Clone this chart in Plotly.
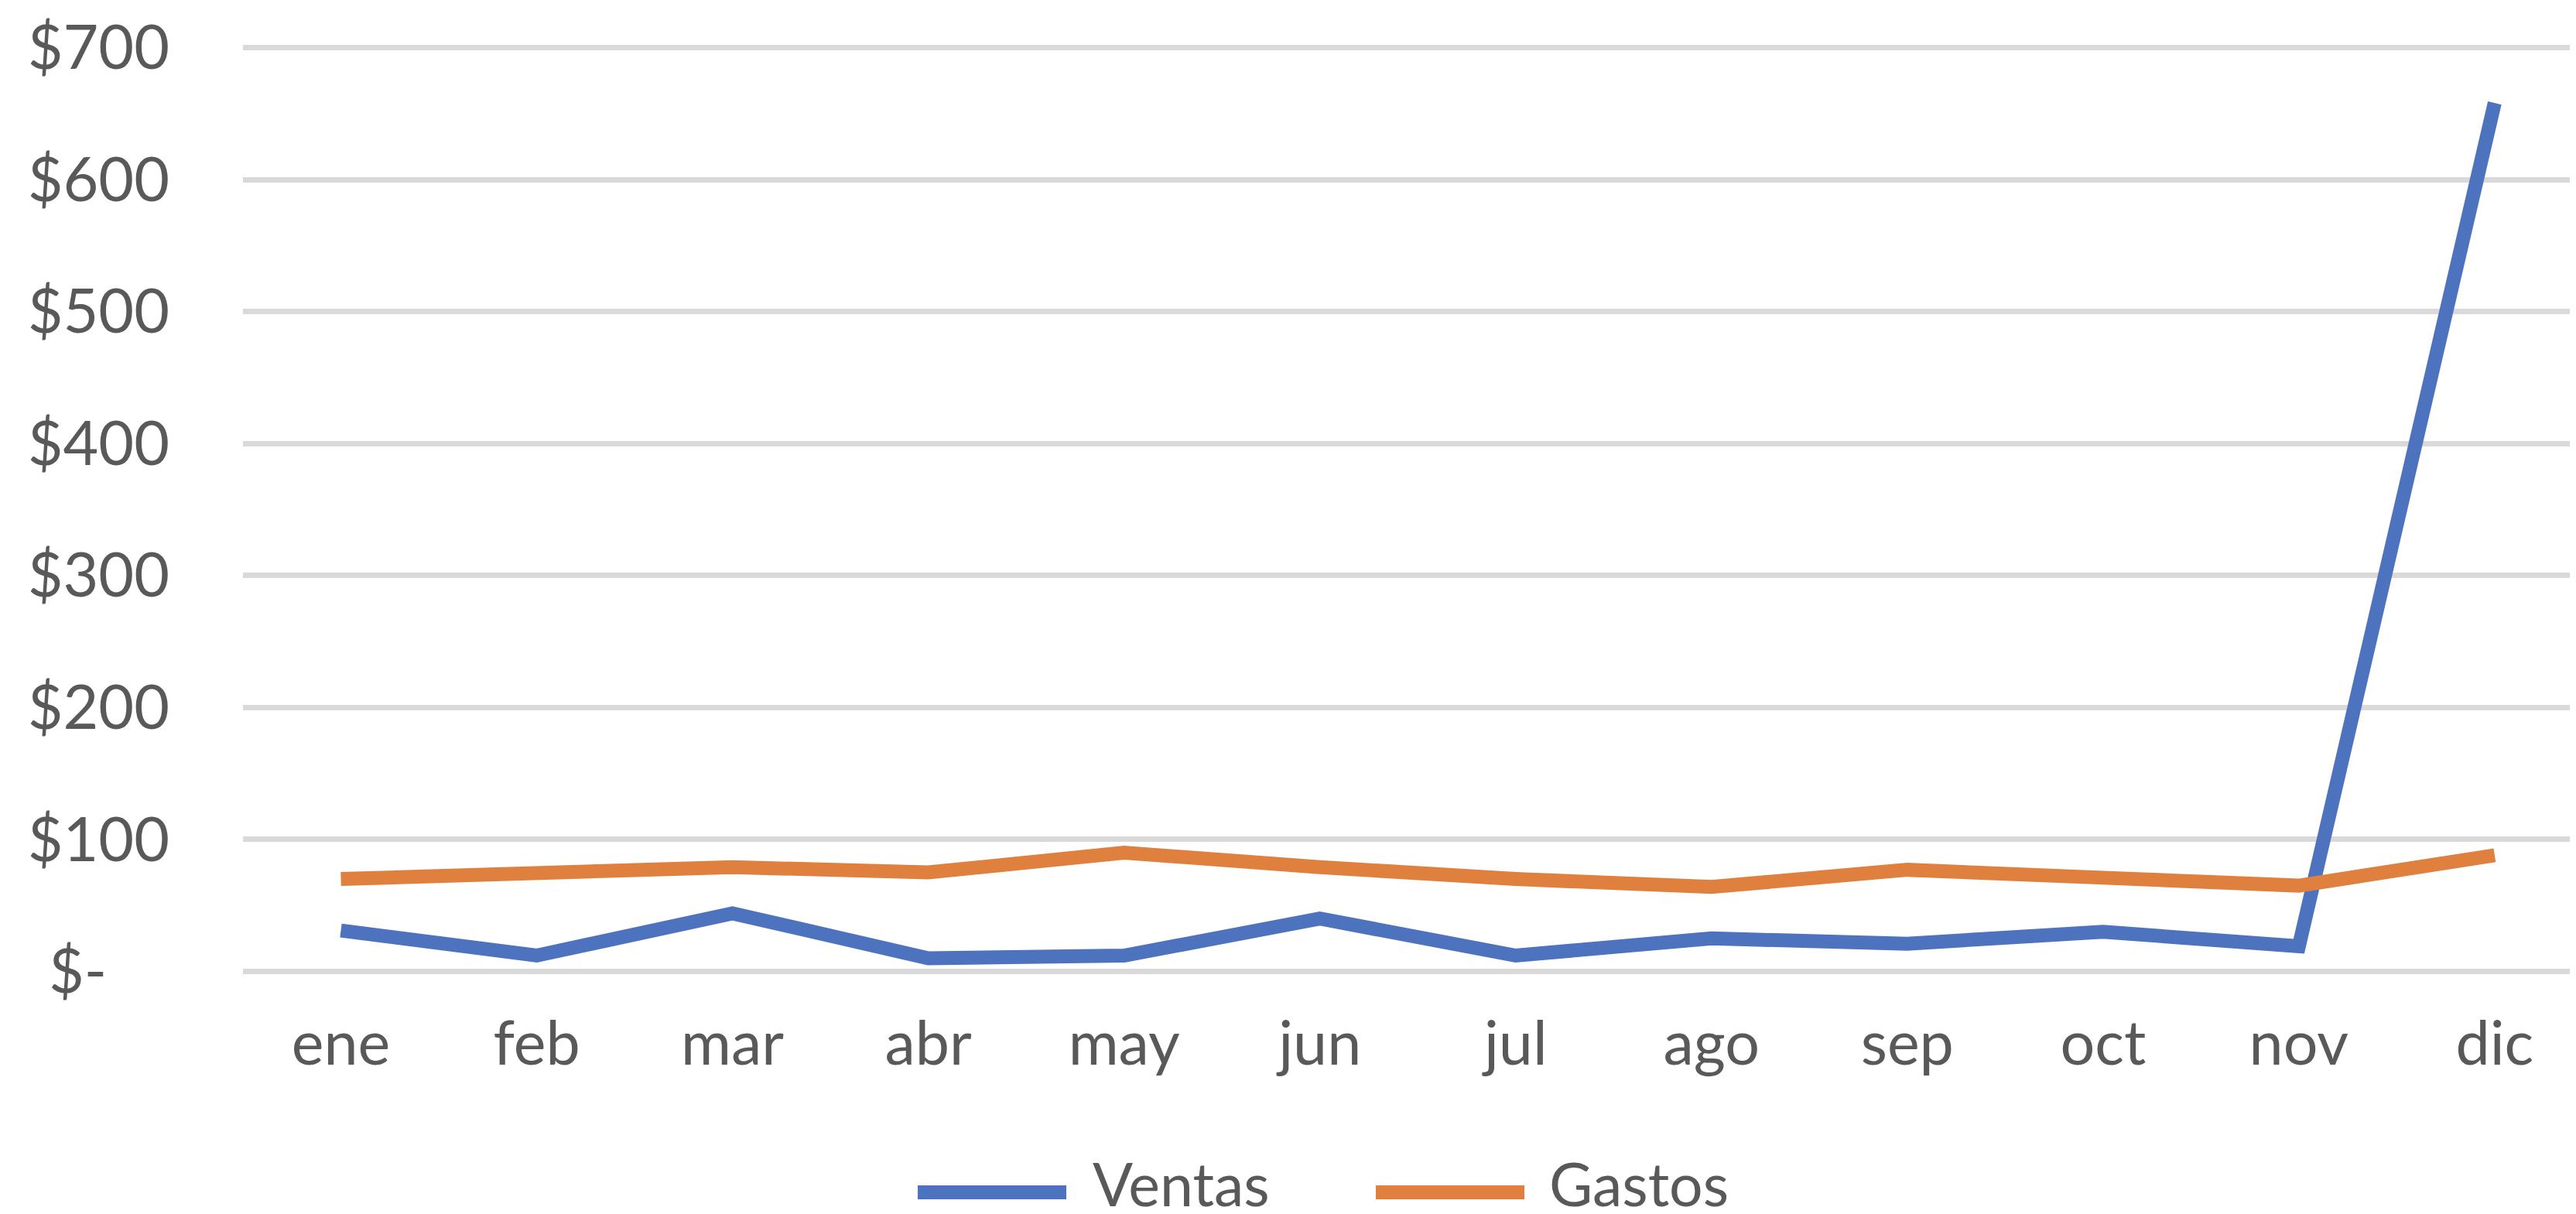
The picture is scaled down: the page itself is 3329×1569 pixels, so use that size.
import plotly.graph_objects as go

months = ["ene", "feb", "mar", "abr", "may", "jun", "jul", "ago", "sep", "oct", "nov", "dic"]
ventas = [31, 12, 44, 10, 12, 40, 12, 25, 21, 30, 19, 658]
gastos = [70, 74, 79, 75, 90, 79, 70, 64, 77, 71, 65, 88]
series_names = ["Ventas", "Gastos"]
y_tick_vals = [0, 100, 200, 300, 400, 500, 600, 700]
y_tick_text = ["$-" + "\u00a0" * 4, "$100", "$200", "$300", "$400", "$500", "$600", "$700"]

BLUE = "#4D72BE"
ORANGE = "#E0803F"
TEXT = "#595959"
FONT = "Lato"
W, H = 3329, 1569
ML, MR, MT, MB = 306, 0, 45, 313
LW = 18

fig = go.Figure()
x_idx = list(range(len(months)))
fig.add_trace(go.Scatter(x=x_idx, y=ventas, mode="lines", name=series_names[0],
                         line=dict(color=BLUE, width=LW), showlegend=False))
fig.add_trace(go.Scatter(x=x_idx, y=gastos, mode="lines", name=series_names[1],
                         line=dict(color=ORANGE, width=LW), showlegend=False))

fig.update_layout(
    width=W, height=H,
    margin=dict(l=ML, r=MR, t=MT, b=MB, pad=0),
    paper_bgcolor="white", plot_bgcolor="white",
    font=dict(family=FONT, size=79, color=TEXT),
    showlegend=False,
)
fig.update_xaxes(
    range=[-0.5, 11.447], tickmode="array", tickvals=x_idx, ticktext=months,
    showgrid=False, zeroline=False, showline=False, ticks="",
    ticklabelstandoff=32, tickfont=dict(family=FONT, size=79, color=TEXT),
)
fig.update_yaxes(
    range=[-5, 705], tickmode="array", tickvals=y_tick_vals, ticktext=y_tick_text,
    showgrid=True, gridcolor="#D9D9D9", gridwidth=7, zeroline=False, showline=False,
    ticks="", ticklabelstandoff=94, tickfont=dict(family=FONT, size=79, color=TEXT),
)

# custom legend below the chart
plot_w = W - ML - MR
plot_h = H - MT - MB
def px_x(p):
    return (p - ML) / plot_w
def px_y(p):
    return (H - MB - p) / plot_h

leg_line_y = px_y(1533)
leg_text_y = px_y(1521)
items = [(series_names[0], BLUE, 1178, 1370, 1402), (series_names[1], ORANGE, 1770, 1962, 1992)]
for name, col, x0, x1, tx in items:
    fig.add_shape(type="line", xref="paper", yref="paper",
                  x0=px_x(x0), x1=px_x(x1), y0=leg_line_y, y1=leg_line_y,
                  line=dict(color=col, width=LW))
    fig.add_annotation(xref="paper", yref="paper", x=px_x(tx), y=leg_text_y,
                       text=name, showarrow=False, xanchor="left", yanchor="middle",
                       font=dict(family=FONT, size=77, color=TEXT))

fig.write_html("out.html")
